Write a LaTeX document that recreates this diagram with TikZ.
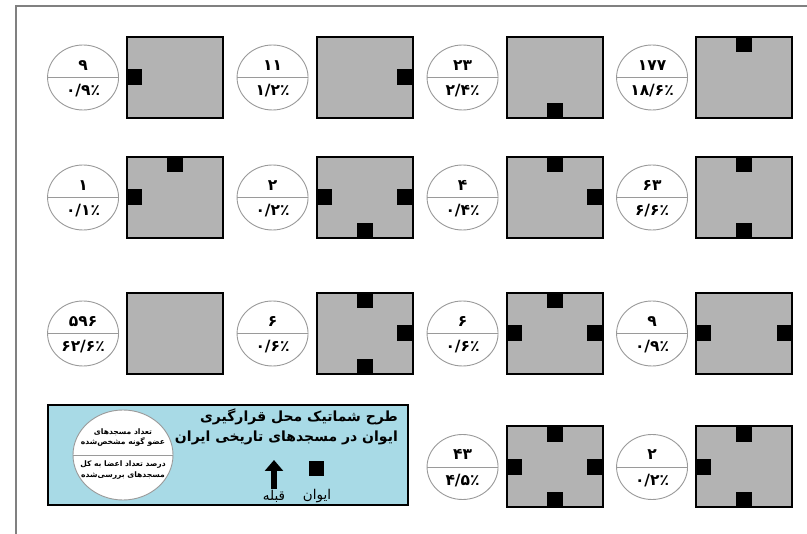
\documentclass[tikz,border=0pt]{standalone}
\usepackage{fontspec}
\newfontfamily\arabicfont[Script=Arabic]{DejaVu Sans}
\TeXXeTstate=1
\usetikzlibrary{arrows.meta,calc,positioning,shapes.geometric}
\definecolor{planfill}{HTML}{B3B3B3}
\definecolor{keyblue}{HTML}{A8DAE6}
\definecolor{rimgray}{HTML}{9A9A9A}

\begin{document}
\begin{tikzpicture}[
    x=1pt, y=-1pt,
    >=Stealth,
    frame/.style={draw=gray, line width=1.5pt},
    plan/.style={draw, fill=planfill, line width=2pt, inner sep=0pt,
                 minimum width=96, minimum height=81},
    ivan/.style={fill=black, inner sep=0pt, minimum width=16, minimum height=16},
    tally/.style={ellipse, draw=rimgray, fill=white, line width=0.9pt, inner sep=0pt,
                  minimum width=71, minimum height=65,
                  path picture={\draw[rimgray, line width=0.9pt]
                    (path picture bounding box.west) -- (path picture bounding box.east);}},
    num/.style={font=\arabicfont\bfseries\fontsize{15.5}{15.5}\selectfont, inner sep=1pt},
    keybox/.style={draw, fill=keyblue, line width=1.5pt, minimum width=360, minimum height=100},
    keytxt/.style={font=\arabicfont\bfseries\fontsize{7.6}{10.5}\selectfont, align=center, inner sep=1pt},
    hdr/.style={font=\arabicfont\bfseries\fontsize{14}{20}\selectfont, align=right, inner sep=0pt},
    keylbl/.style={font=\arabicfont\fontsize{13.5}{13.5}\selectfont, inner sep=1pt},
    qarr/.style={-{Triangle[width=18pt,length=11pt]}, line width=6pt}
]

\path[fill=white] (0,0) rectangle (807,534);
\useasboundingbox (0,0) rectangle (807,534);
\draw[frame] (16,534) -- (16,6) -- (807,6);

% ---- plan centres ----
\def\cA{175}
\def\cB{364.5}
\def\cC{554.5}
\def\cD{744}
\def\rA{77.5}
\def\rB{197.5}
\def\rC{333.5}
\def\rD{467}

% ===== ROW 1 =====
\node[plan] (p11) at (\cA,\rA) {};
\node[tally, left=7pt of p11] (t11) {};
\node[num, above=6pt of t11.center] (n11) {۹};
\node[num, below=6pt of t11.center] (q11) {۰/۹٪};
\node[ivan, anchor=west] (p11w) at (p11.west) {};

\node[plan] (p12) at (\cB,\rA) {};
\node[tally, left=7pt of p12] (t12) {};
\node[num, above=6pt of t12.center] (n12) {۱۱};
\node[num, below=6pt of t12.center] (q12) {۱/۲٪};
\node[ivan, anchor=east] (p12e) at (p12.east) {};

\node[plan] (p13) at (\cC,\rA) {};
\node[tally, left=7pt of p13] (t13) {};
\node[num, above=6pt of t13.center] (n13) {۲۳};
\node[num, below=6pt of t13.center] (q13) {۲/۴٪};
\node[ivan, anchor=south] (p13s) at (p13.south) {};

\node[plan] (p14) at (\cD,\rA) {};
\node[tally, left=7pt of p14] (t14) {};
\node[num, above=6pt of t14.center] (n14) {۱۷۷};
\node[num, below=6pt of t14.center] (q14) {۱۸/۶٪};
\node[ivan, anchor=north] (p14n) at (p14.north) {};

% ===== ROW 2 =====
\node[plan] (p21) at (\cA,\rB) {};
\node[tally, left=7pt of p21] (t21) {};
\node[num, above=6pt of t21.center] (n21) {۱};
\node[num, below=6pt of t21.center] (q21) {۰/۱٪};
\node[ivan, anchor=north] (p21n) at (p21.north) {};
\node[ivan, anchor=west] (p21w) at (p21.west) {};

\node[plan] (p22) at (\cB,\rB) {};
\node[tally, left=7pt of p22] (t22) {};
\node[num, above=6pt of t22.center] (n22) {۲};
\node[num, below=6pt of t22.center] (q22) {۰/۲٪};
\node[ivan, anchor=west] (p22w) at (p22.west) {};
\node[ivan, anchor=east] (p22e) at (p22.east) {};
\node[ivan, anchor=south] (p22s) at (p22.south) {};

\node[plan] (p23) at (\cC,\rB) {};
\node[tally, left=7pt of p23] (t23) {};
\node[num, above=6pt of t23.center] (n23) {۴};
\node[num, below=6pt of t23.center] (q23) {۰/۴٪};
\node[ivan, anchor=north] (p23n) at (p23.north) {};
\node[ivan, anchor=east] (p23e) at (p23.east) {};

\node[plan] (p24) at (\cD,\rB) {};
\node[tally, left=7pt of p24] (t24) {};
\node[num, above=6pt of t24.center] (n24) {۶۳};
\node[num, below=6pt of t24.center] (q24) {۶/۶٪};
\node[ivan, anchor=north] (p24n) at (p24.north) {};
\node[ivan, anchor=south] (p24s) at (p24.south) {};

% ===== ROW 3 =====
\node[plan] (p31) at (\cA,\rC) {};
\node[tally, left=7pt of p31] (t31) {};
\node[num, above=6pt of t31.center] (n31) {۵۹۶};
\node[num, below=6pt of t31.center] (q31) {۶۲/۶٪};

\node[plan] (p32) at (\cB,\rC) {};
\node[tally, left=7pt of p32] (t32) {};
\node[num, above=6pt of t32.center] (n32) {۶};
\node[num, below=6pt of t32.center] (q32) {۰/۶٪};
\node[ivan, anchor=north] (p32n) at (p32.north) {};
\node[ivan, anchor=east] (p32e) at (p32.east) {};
\node[ivan, anchor=south] (p32s) at (p32.south) {};

\node[plan] (p33) at (\cC,\rC) {};
\node[tally, left=7pt of p33] (t33) {};
\node[num, above=6pt of t33.center] (n33) {۶};
\node[num, below=6pt of t33.center] (q33) {۰/۶٪};
\node[ivan, anchor=north] (p33n) at (p33.north) {};
\node[ivan, anchor=west] (p33w) at (p33.west) {};
\node[ivan, anchor=east] (p33e) at (p33.east) {};

\node[plan] (p34) at (\cD,\rC) {};
\node[tally, left=7pt of p34] (t34) {};
\node[num, above=6pt of t34.center] (n34) {۹};
\node[num, below=6pt of t34.center] (q34) {۰/۹٪};
\node[ivan, anchor=west] (p34w) at (p34.west) {};
\node[ivan, anchor=east] (p34e) at (p34.east) {};

% ===== ROW 4 =====
\node[plan] (p43) at (\cC,\rD) {};
\node[tally, left=7pt of p43] (t43) {};
\node[num, above=6pt of t43.center] (n43) {۴۳};
\node[num, below=6pt of t43.center] (q43) {۴/۵٪};
\node[ivan, anchor=north] (p43n) at (p43.north) {};
\node[ivan, anchor=west] (p43w) at (p43.west) {};
\node[ivan, anchor=east] (p43e) at (p43.east) {};
\node[ivan, anchor=south] (p43s) at (p43.south) {};

\node[plan] (p44) at (\cD,\rD) {};
\node[tally, left=7pt of p44] (t44) {};
\node[num, above=6pt of t44.center] (n44) {۲};
\node[num, below=6pt of t44.center] (q44) {۰/۲٪};
\node[ivan, anchor=north] (p44n) at (p44.north) {};
\node[ivan, anchor=west] (p44w) at (p44.west) {};
\node[ivan, anchor=south] (p44s) at (p44.south) {};

% ===== KEY =====
\node[keybox] (key) at (228,455) {};
\node[tally, minimum width=100, minimum height=90] (kt) at (123,455) {};
\node[keytxt, above=7pt of kt.center] (ktop)
    {\beginR تعداد مسجدهای\endR\\\beginR عضو گونه مشخص‌شده\endR};
\node[keytxt, below=5pt of kt.center] (kbot)
    {\beginR درصد تعداد اعضا به کل\endR\\\beginR مسجدهای بررسی‌شده\endR};

\node[hdr, anchor=east] (ttl) at (398,427)
    {\beginR طرح شماتیک محل قرارگیری\endR\\\beginR ایوان در مسجدهای تاریخی ایران\endR};

\node[keylbl] (qlbl) at (274,496) {\beginR قبله\endR};
\coordinate (qtip) at (274,460);
\draw[qarr] (qlbl.north) -- (qtip);

\node[ivan, minimum width=15, minimum height=15] (kiv) at (316,469) {};
\node[keylbl] (klbl) at (317,496) {\beginR ایوان\endR};

\end{tikzpicture}
\end{document}
